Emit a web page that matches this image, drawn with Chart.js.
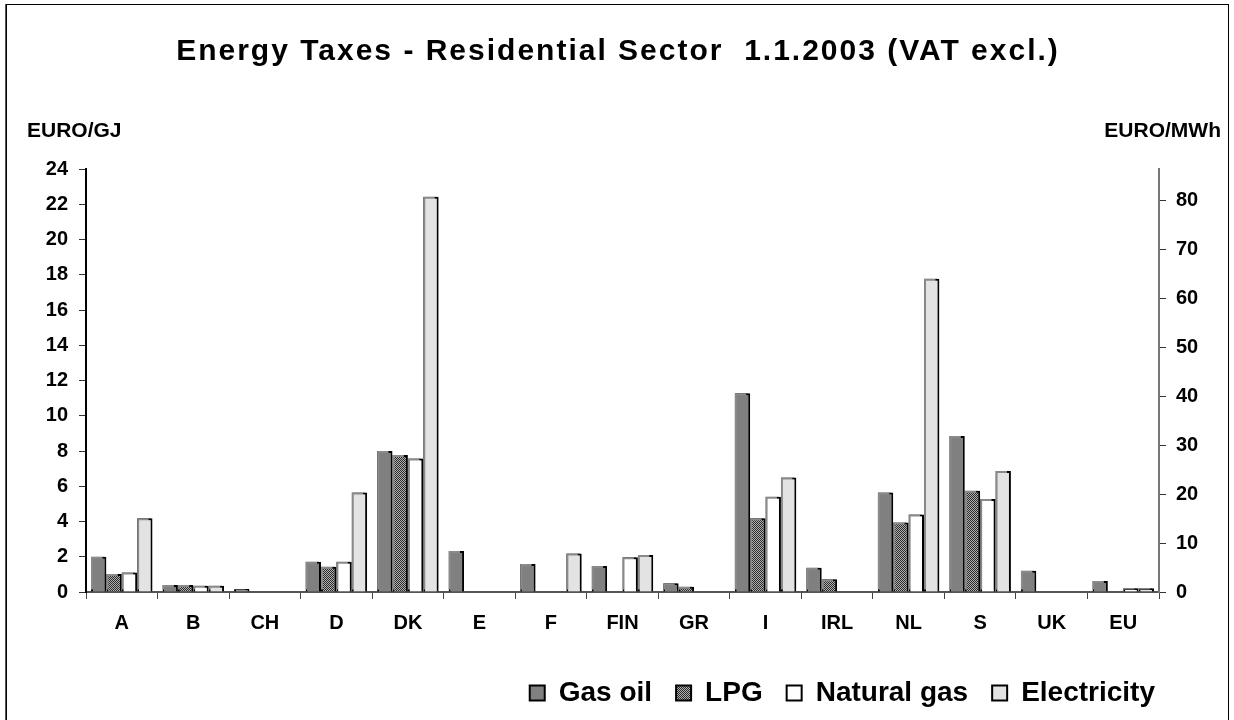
<!DOCTYPE html>
<html>
<head>
<meta charset="utf-8">
<script src="https://cdn.jsdelivr.net/npm/chart.js@4.4.1/dist/chart.umd.min.js"></script>
<style>
    html, body { margin: 0; padding: 0; background: #fff; overflow: hidden; }
    #wrap { position: relative; width: 1234px; height: 720px; }
    #frame { position: absolute; left: 6px; top: 4px; width: 1221px; height: 730px; border: 1px solid #000; border-bottom: none; pointer-events: none; box-shadow: -1px 0 0 #555; }
</style>
</head>
<body>
<div id="wrap">
    <canvas id="chart" width="1234" height="720"></canvas>
    <div id="frame"></div>
</div>
<script>
// ===== Data (EURO/GJ) =====
const countries = ["A", "B", "CH", "D", "DK", "E", "F", "FIN", "GR", "I", "IRL", "NL", "S", "UK", "EU"];
const gasOil = [2.0, 0.4, 0.17, 1.72, 8.0, 2.33, 1.59, 1.47, 0.49, 11.27, 1.38, 5.65, 8.85, 1.21, 0.62];
const lpg = [1.02, 0.4, null, 1.43, 7.77, null, null, null, 0.3, 4.18, 0.72, 3.95, 5.75, null, null];
const naturalGas = [1.1, 0.35, null, 1.72, 7.58, null, null, 1.97, null, 5.41, null, 4.4, 5.27, null, 0.21];
const electricity = [4.18, 0.35, null, 5.65, 22.42, null, 2.19, 2.1, null, 6.49, null, 17.77, 6.86, null, 0.21];

const leftTicks = [0, 2, 4, 6, 8, 10, 12, 14, 16, 18, 20, 22, 24];
const rightTicks = [0, 10, 20, 30, 40, 50, 60, 70, 80];
const GJ_PER_MWH = 3.6;

// ===== Dithered fill for LPG =====
function makeChecker() {
    const c = document.createElement('canvas');
    c.width = 2; c.height = 2;
    const g = c.getContext('2d');
    g.fillStyle = '#b0b0b0';
    g.fillRect(0, 0, 2, 2);
    g.fillStyle = '#2a2a2a';
    g.fillRect(0, 0, 1, 1);
    g.fillRect(1, 1, 1, 1);
    return g.createPattern(c, 'repeat');
}
const checker = makeChecker();

// ===== Shadow behind bars =====
const barShadow = {
    id: 'barShadow',
    beforeDatasetsDraw(chart) {
        const ctx = chart.ctx;
        ctx.save();
        ctx.shadowColor = '#8a8a8a';
        ctx.shadowOffsetX = -2;
        ctx.shadowOffsetY = -2;
        ctx.shadowBlur = 0;
    },
    afterDatasetsDraw(chart) {
        chart.ctx.restore();
    }
};

// ===== Legend sits a bit left of the right edge =====
const legendShift = {
    id: 'legendShift',
    afterLayout(chart) {
        const lg = chart.legend;
        if (!lg) return;
        lg.left -= 55;
        lg.right -= 55;
    }
};

// ===== Title and unit labels =====
const texts = {
    id: 'texts',
    afterDraw(chart) {
        const ctx = chart.ctx;
        ctx.save();
        ctx.fillStyle = '#000';
        ctx.textBaseline = 'middle';
        ctx.font = 'bold 30px "Liberation Sans", Arial, sans-serif';
        ctx.textAlign = 'center';
        ctx.letterSpacing = '2px';
        ctx.fillText('Energy Taxes - Residential Sector  1.1.2003 (VAT excl.)', 618, 52);
        ctx.letterSpacing = '0px';
        ctx.font = 'bold 21px "Liberation Sans", Arial, sans-serif';
        ctx.textAlign = 'left';
        ctx.fillText('EURO/GJ', 27, 131);
        ctx.textAlign = 'right';
        ctx.fillText('EURO/MWh', 1221, 131);
        ctx.restore();
    }
};

const tickFont = { family: '"Liberation Sans", Arial, sans-serif', size: 20, weight: 'bold' };

new Chart(document.getElementById('chart'), {
    type: 'bar',
    data: {
        labels: countries,
        datasets: [
            { label: 'Gas oil', data: gasOil, backgroundColor: '#808080' },
            { label: 'LPG', data: lpg, backgroundColor: checker },
            { label: 'Natural gas', data: naturalGas, backgroundColor: '#ffffff' },
            { label: 'Electricity', data: electricity, backgroundColor: '#e3e3e3' }
        ].map(ds => Object.assign(ds, {
            borderColor: '#000',
            borderWidth: 2,
            borderSkipped: 'start',
            categoryPercentage: 0.86,
            barPercentage: 1.0,
            yAxisID: 'y'
        }))
    },
    options: {
        responsive: false,
        animation: false,
        layout: { padding: { top: 169, left: 0, right: 0, bottom: 3 } },
        plugins: {
            title: { display: false },
            tooltip: { enabled: false },
            legend: {
                position: 'bottom',
                align: 'end',
                labels: {
                    color: '#000',
                    font: { family: '"Liberation Sans", Arial, sans-serif', size: 28, weight: 'bold' },
                    boxWidth: 15,
                    boxHeight: 15,
                    padding: 24
                }
            }
        },
        scales: {
            x: {
                grid: { drawOnChartArea: false, tickLength: 7, color: '#444', offset: true },
                border: { color: '#555', width: 2 },
                ticks: { color: '#000', font: tickFont, padding: 12, autoSkip: false, maxRotation: 0 },
                afterFit(scale) { scale.height = 63; }
            },
            y: {
                position: 'left',
                min: 0,
                max: 24,
                grid: { drawOnChartArea: false, tickLength: 7, color: '#333' },
                border: { color: '#000', width: 2 },
                ticks: { color: '#000', font: tickFont, padding: 11 },
                afterBuildTicks(scale) { scale.ticks = leftTicks.map(v => ({ value: v })); },
                afterFit(scale) { scale.width = 86; }
            },
            y1: {
                position: 'right',
                min: 0,
                max: 24 * GJ_PER_MWH,
                grid: { drawOnChartArea: false, tickLength: 7, color: '#333' },
                border: { color: '#777', width: 2 },
                ticks: { color: '#000', font: tickFont, padding: 10 },
                afterBuildTicks(scale) { scale.ticks = rightTicks.map(v => ({ value: v })); },
                afterFit(scale) { scale.width = 75; }
            }
        }
    },
    plugins: [barShadow, legendShift, texts]
});
</script>
</body>
</html>
